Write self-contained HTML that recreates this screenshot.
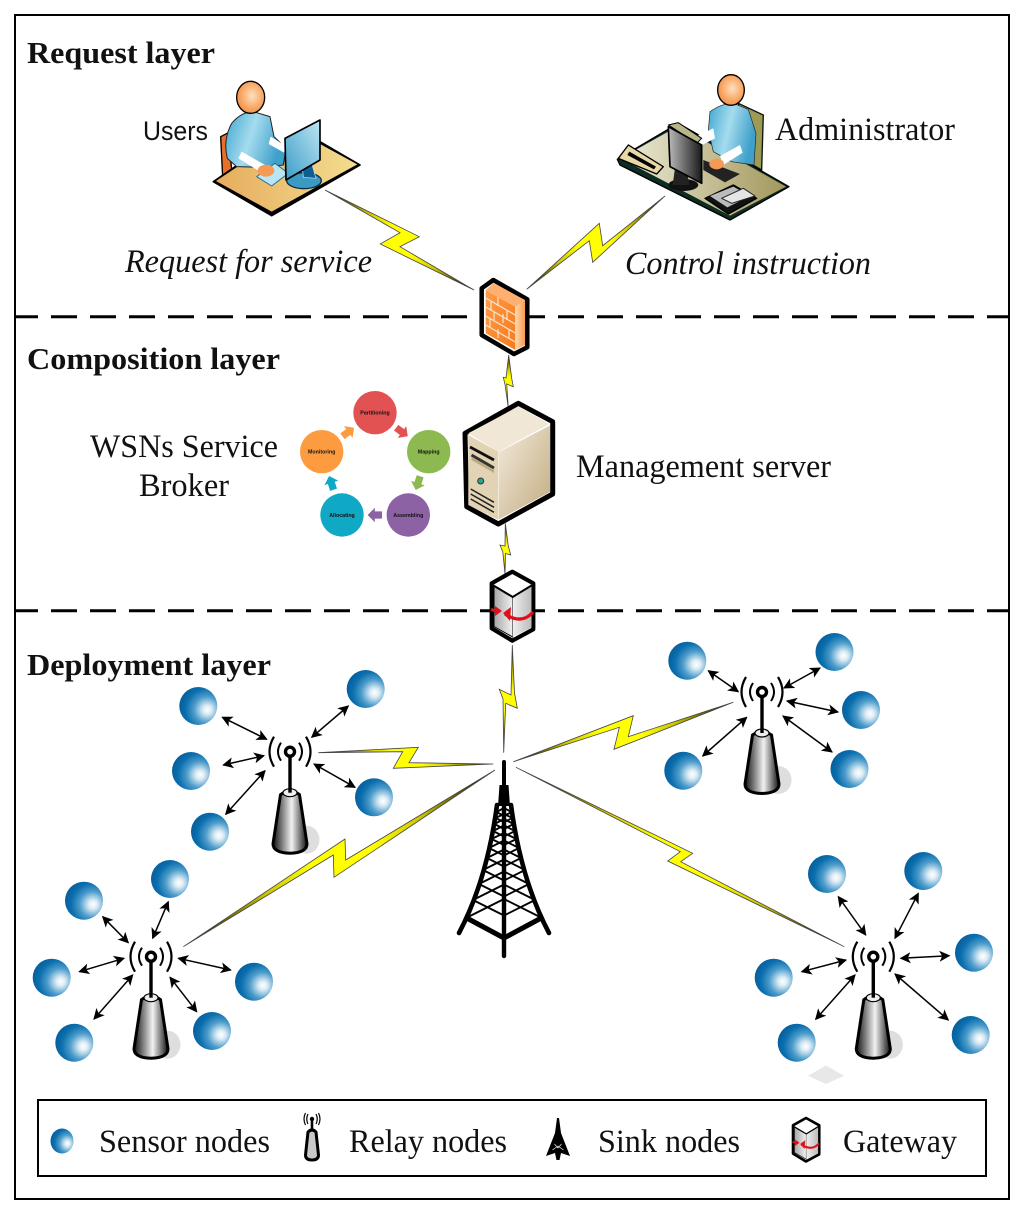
<!DOCTYPE html>
<html><head><meta charset="utf-8"><style>html,body{margin:0;padding:0;background:#fff}svg{display:block}text{font-family:"Liberation Serif",serif;fill:#111}</style></head><body>
<svg width="1024" height="1214" viewBox="0 0 1024 1214" xmlns="http://www.w3.org/2000/svg">
<defs>
<radialGradient id="s" cx=".72" cy=".6" r=".72" fx=".74" fy=".6"><stop offset="0" stop-color="#fff"/><stop offset=".16" stop-color="#dcecf5"/><stop offset=".48" stop-color="#4d9ccb"/><stop offset=".78" stop-color="#0b6fae"/><stop offset="1" stop-color="#07609f"/></radialGradient>
<linearGradient id="tw" x1="0" x2="1" y1="0" y2="0"><stop offset="0" stop-color="#111"/><stop offset=".25" stop-color="#777"/><stop offset=".55" stop-color="#f2f2f2"/><stop offset=".8" stop-color="#777"/><stop offset="1" stop-color="#111"/></linearGradient>
<radialGradient id="hd" cx=".55" cy=".45" r=".65"><stop offset="0" stop-color="#fde0c0"/><stop offset=".6" stop-color="#f9a765"/><stop offset="1" stop-color="#f0893b"/></radialGradient>
<linearGradient id="bd" x1="0" x2="1" y1="0" y2=".3"><stop offset="0" stop-color="#3fa6d0"/><stop offset=".5" stop-color="#a5dcee"/><stop offset="1" stop-color="#3fa0cb"/></linearGradient>
<linearGradient id="dk" x1="0" x2="1" y1="0" y2="0"><stop offset="0" stop-color="#e6ac5e"/><stop offset="1" stop-color="#f3dd8e"/></linearGradient>
<linearGradient id="scr" x1="0" x2="1" y1="1" y2="0"><stop offset="0" stop-color="#3c9cc8"/><stop offset="1" stop-color="#bde6f3"/></linearGradient>
<linearGradient id="dk2" x1="0" x2="1" y1="0" y2="0"><stop offset="0" stop-color="#ecebd8"/><stop offset="1" stop-color="#a3975c"/></linearGradient>
<linearGradient id="mon" x1="0" x2="1" y1="0" y2="0"><stop offset="0" stop-color="#bbb"/><stop offset="1" stop-color="#1a1a1a"/></linearGradient>
<linearGradient id="fw" x1="0" x2="1" y1="0" y2="1"><stop offset="0" stop-color="#ff9c4a"/><stop offset="1" stop-color="#f67a1c"/></linearGradient>
<linearGradient id="fs" x1="0" x2="1" y1="0" y2="0"><stop offset="0" stop-color="#ffd9b0"/><stop offset="1" stop-color="#f79a4e"/></linearGradient>
<linearGradient id="sv" x1="0" x2="1" y1="0" y2="1"><stop offset="0" stop-color="#f3ebdc"/><stop offset="1" stop-color="#c2ab80"/></linearGradient>
<linearGradient id="gw" x1="0" x2="1" y1="0" y2="0"><stop offset="0" stop-color="#a6a6a6"/><stop offset="1" stop-color="#f2f2f2"/></linearGradient>
<linearGradient id="gw2" x1="0" x2="1" y1="0" y2="0"><stop offset="0" stop-color="#efefef"/><stop offset="1" stop-color="#bbb"/></linearGradient>
<linearGradient id="lg"><stop offset="0" stop-color="#111"/><stop offset=".12" stop-color="#5e5900"/><stop offset=".28" stop-color="#cfc800"/><stop offset=".42" stop-color="#ffff00"/><stop offset=".6" stop-color="#ffff00"/><stop offset=".75" stop-color="#cfc800"/><stop offset=".88" stop-color="#5e5900"/><stop offset="1" stop-color="#111"/></linearGradient>
<linearGradient id="L1" href="#lg" gradientUnits="userSpaceOnUse" x1="325" y1="190" x2="474" y2="290"/>
<linearGradient id="L2" href="#lg" gradientUnits="userSpaceOnUse" x1="665" y1="196" x2="527" y2="289"/>
<linearGradient id="L3" href="#lg" gradientUnits="userSpaceOnUse" x1="508" y1="355" x2="508" y2="408"/>
<linearGradient id="L4" href="#lg" gradientUnits="userSpaceOnUse" x1="505" y1="523" x2="505" y2="574"/>
<linearGradient id="L5" href="#lg" gradientUnits="userSpaceOnUse" x1="512" y1="645" x2="504" y2="753"/>
<linearGradient id="L6" href="#lg" gradientUnits="userSpaceOnUse" x1="318" y1="752" x2="493" y2="764"/>
<linearGradient id="L7" href="#lg" gradientUnits="userSpaceOnUse" x1="733" y1="702" x2="513" y2="762"/>
<linearGradient id="L8" href="#lg" gradientUnits="userSpaceOnUse" x1="183" y1="947" x2="495" y2="770"/>
<linearGradient id="L9" href="#lg" gradientUnits="userSpaceOnUse" x1="516" y1="767" x2="844" y2="947"/>
<marker id="a" viewBox="0 0 10 10" refX="9" refY="5" markerWidth="11" markerHeight="11" markerUnits="userSpaceOnUse" orient="auto-start-reverse"><path d="M0,0 L10,5 L0,10 L2.500,5Z" fill="#000"/></marker>
<g id="relay">
<ellipse cx="16.500" cy="88" rx="13" ry="14" fill="#dedede"/>
<path d="M-9.500,43 L-17,92 Q-17,101 0,101.500 Q17,101 17,92 L9.500,43 Q0,36 -9.500,43Z" fill="url(#tw)" stroke="#000" stroke-width="3"/>
<ellipse cx="0" cy="41" rx="7" ry="4" fill="#eee" stroke="#000" stroke-width="1.200"/>
<path d="M0,3 V41" stroke="#000" stroke-width="3.400" fill="none"/>
<circle cx="0" cy="0" r="4.500" fill="#fff" stroke="#000" stroke-width="3.400"/>
<path d="M-9,-9 Q-15,0 -9,9 M9,-9 Q15,0 9,9" fill="none" stroke="#000" stroke-width="2"/>
<path d="M-16,-15 Q-25,0 -16,15 M16,-15 Q25,0 16,15" fill="none" stroke="#000" stroke-width="2.200"/>
</g>
<g id="lat" fill="none" stroke="#000" stroke-width="1.900">
<path d="M466 918L504 899M473 900L504 915.500M473 900L504 884.500M479 884L504 896.500M479 884L504 871.500M483 870L504 880.500M483 870L504 859.500M487 858L504 866.500M487 858L504 849.500M489 848L504 855.500M489 848L504 840.500M491.500 839L504 845M491.500 839L504 833M493 831L504 836.500M493 831L504 825.500M494.500 824L504 829M494.500 824L504 819M495.500 818L504 822M495.500 818L504 814M496.500 812L504 816M496.500 812L504 808"/>
<path d="M497 805 Q487 880 459 933" stroke-width="4.600" stroke-linecap="round"/>
<path d="M466.700 918L504 938" stroke-width="5"/>
</g>
<g id="sink">
<use href="#lat"/><use href="#lat" transform="translate(1008,0) scale(-1,1)"/>
<path d="M504 762V785" stroke="#000" stroke-width="4" stroke-linecap="round"/>
<path d="M499.500 785H508.500L510 806H498Z" fill="#000"/>
<path d="M504 800V956" stroke="#000" stroke-width="4.400" stroke-linecap="round"/>
</g>
<g id="gate">
<path d="M512.300 571.700L533.300 583.300V629.300L512.300 640.700L491.700 628.300V583.300Z" fill="#fff" stroke="#000" stroke-width="4.200" stroke-linejoin="round"/>
<path d="M494 586L512.700 597V637L494 626.500Z" fill="url(#gw)" stroke="#000" stroke-width="1"/>
<path d="M512.700 597L531.500 586V627.500L512.700 637Z" fill="url(#gw2)"/>
<path d="M493.500 585.500L512.700 597L531.500 585.500" fill="none" stroke="#000" stroke-width="2"/>
<path d="M533 612Q522 625 505 614" fill="none" stroke="#e0101a" stroke-width="3.200"/>
<path d="M503 613L511 607L510 621Z" fill="#e0101a"/>
<path d="M491 609Q496 612 499 612" fill="none" stroke="#e0101a" stroke-width="2.800"/>
<path d="M502 611L495 606V616Z" fill="#e0101a"/>
</g>
</defs>
<rect x="15" y="15" width="994" height="1184" fill="none" stroke="#000" stroke-width="2"/>
<path d="M15 316.700H1009M15 610.700H1009" stroke="#000" stroke-width="3" stroke-dasharray="26 13" stroke-dashoffset="3" fill="none"/>

<!-- lightning -->
<g stroke="#444" stroke-width=".8">
<polygon fill="url(#L1)" points="325,190 419.300,236.700 400,246.700 474,290 380.300,244 400,232.700"/>
<polygon fill="url(#L2)" points="665,196 602.700,245.700 599.300,223.300 526.700,289.300 589.300,240.700 592.700,262.300"/>
<polygon fill="url(#L3)" points="508.700,355 511.700,378.300 513.300,386.700 506.700,384 508.300,408 505,384.500 503.300,377.300 506,378"/>
<polygon fill="url(#L4)" points="505.300,523.300 508.300,546 510.700,555 505.500,553.500 505,574 502.800,552 500,545 505,546"/>
<polygon fill="url(#L5)" points="512.300,645 514.500,693 517.300,708.300 505.700,703.300 503.700,752.700 503,699 499.300,689.300 511,695"/>
<polygon fill="url(#L6)" points="318.300,752.700 418.300,747.300 409,762.700 493.300,764 393.300,768.300 402.700,751.700"/>
<polygon fill="url(#L7)" points="513.300,761.700 633.300,715.700 628.300,736.700 733.300,702.300 614,749.300 619.300,727.300"/>
<polygon fill="url(#L8)" points="183.300,946.700 345,839 345.700,860 495,770 334,877.300 333.300,855"/>
<polygon fill="url(#L9)" points="516,767.300 692.700,853.300 680.700,861.700 844.300,946.700 667.700,861 680.300,851.700"/>
</g>

<!-- sensors -->
<g fill="url(#s)">
<circle cx="198.300" cy="706" r="19"/><circle cx="365.700" cy="689" r="19"/><circle cx="191" cy="771" r="19"/><circle cx="374" cy="797.300" r="19"/><circle cx="210" cy="831.700" r="19"/>
<circle cx="84" cy="900.700" r="19"/><circle cx="170" cy="879" r="19"/><circle cx="51.700" cy="977.700" r="19"/><circle cx="254" cy="981.700" r="19"/><circle cx="74.300" cy="1042.700" r="19"/><circle cx="212" cy="1031" r="19"/>
<circle cx="687.300" cy="660.700" r="19"/><circle cx="834.500" cy="652" r="19"/><circle cx="861" cy="710" r="19"/><circle cx="683.300" cy="770.700" r="19"/><circle cx="849.500" cy="769" r="19"/>
<circle cx="827" cy="874" r="19"/><circle cx="923.300" cy="871" r="19"/><circle cx="773.700" cy="977.700" r="19"/><circle cx="974" cy="952.700" r="19"/><circle cx="796.700" cy="1042.700" r="19"/><circle cx="970.700" cy="1035" r="19"/>
</g>
<polygon points="808,1075.700 826,1065.500 844,1075.700 826,1084" fill="#e8e8e8"/>

<!-- arrows -->
<g stroke="#000" stroke-width="1.500" fill="none">
<path marker-start="url(#a)" marker-end="url(#a)" d="M222.300 717.300L266.700 739.300"/>
<path marker-start="url(#a)" marker-end="url(#a)" d="M311.700 737.300L348.300 706"/>
<path marker-start="url(#a)" marker-end="url(#a)" d="M223.300 765L264 755.700"/>
<path marker-start="url(#a)" marker-end="url(#a)" d="M314 764L355 787.300"/>
<path marker-start="url(#a)" marker-end="url(#a)" d="M225.700 814.300L265 770.700"/>
<path marker-start="url(#a)" marker-end="url(#a)" d="M102.700 916.700L128.300 942.700"/>
<path marker-start="url(#a)" marker-end="url(#a)" d="M168.300 901.700L152.700 938.300"/>
<path marker-start="url(#a)" marker-end="url(#a)" d="M79.300 971.700L124 958.300"/>
<path marker-start="url(#a)" marker-end="url(#a)" d="M178.300 958.300L230.700 970"/>
<path marker-start="url(#a)" marker-end="url(#a)" d="M94 1019L132.700 975"/>
<path marker-start="url(#a)" marker-end="url(#a)" d="M170 977.300L196.700 1011.700"/>
<path marker-start="url(#a)" marker-end="url(#a)" d="M708.300 670.700L738.300 691.700"/>
<path marker-start="url(#a)" marker-end="url(#a)" d="M746.700 717.300L702.700 756"/>
<path marker-start="url(#a)" marker-end="url(#a)" d="M784 688L820 668"/>
<path marker-start="url(#a)" marker-end="url(#a)" d="M787 701L838 712"/>
<path marker-start="url(#a)" marker-end="url(#a)" d="M783 716L832 752"/>
<path marker-start="url(#a)" marker-end="url(#a)" d="M838.300 896.700L865.700 935"/>
<path marker-start="url(#a)" marker-end="url(#a)" d="M918.300 893.300L895 938.300"/>
<path marker-start="url(#a)" marker-end="url(#a)" d="M801.700 971.700L846 960"/>
<path marker-start="url(#a)" marker-end="url(#a)" d="M900.700 958.300L949.300 955.700"/>
<path marker-start="url(#a)" marker-end="url(#a)" d="M815.700 1019.300L855 975"/>
<path marker-start="url(#a)" marker-end="url(#a)" d="M895 974L948.300 1020"/>
</g>

<use href="#relay" transform="translate(290,751.700)"/>
<use href="#relay" transform="translate(151,956.700)"/>
<use href="#relay" transform="translate(762,692)"/>
<use href="#relay" transform="translate(873.300,956.700)"/>
<use href="#sink"/>

<!-- users -->
<g transform="translate(200,70) scale(.3333)" stroke-linejoin="round">
<polygon points="62,200 85,188 95,300 68,322" fill="#e8702a" stroke="#000" stroke-width="4"/>
<polygon points="40,335 215,437 480,285 360,215 250,245 120,280" fill="#000" stroke="#000" stroke-width="5"/>
<polygon points="48,333 215,425 472,283 360,222 250,250 120,285" fill="url(#dk)"/>
<path d="M95,160 Q125,125 160,125 L210,140 L222,200 L258,235 L250,285 L190,292 L110,290 L82,265 Q68,210 95,160Z" fill="url(#bd)" stroke="#222" stroke-width="3"/>
<polygon points="125,245 195,285 180,305 115,265" fill="#fff"/>
<polygon points="212,200 258,228 252,248 206,222" fill="#fff"/>
<polygon points="170,320 225,280 265,310 215,348" fill="#b9e6f2" stroke="#2a6f90" stroke-width="3"/>
<ellipse cx="198" cy="302" rx="25" ry="18" fill="#f59a55"/>
<ellipse cx="312" cy="332" rx="52" ry="24" fill="#3b9ac4" stroke="#0c2d44" stroke-width="4"/>
<polygon points="305,262 328,255 348,325 310,322" fill="#0e5f90" stroke="#c9e9f4" stroke-width="2"/>
<polygon points="255,205 360,150 360,270 258,330" fill="url(#scr)" stroke="#000" stroke-width="5"/>
<ellipse cx="152" cy="82" rx="42" ry="48" fill="url(#hd)" stroke="#000" stroke-width="4"/>
</g>

<!-- admin -->
<g transform="translate(600,70) scale(.3333)" stroke-linejoin="round">
<polygon points="415,100 490,135 485,300 450,280" fill="#9b9b55" stroke="#111" stroke-width="4"/>
<polygon points="52,268 235,160 567,350 390,450 60,285" fill="#0d2d22" stroke="#000" stroke-width="4"/>
<polygon points="62,265 235,168 558,350 390,437" fill="url(#dk2)"/>
<path d="M330,125 Q365,100 400,100 L445,118 L468,190 L462,285 L395,275 L340,245 L325,180Z" fill="url(#bd)" stroke="#222" stroke-width="2"/>
<polygon points="295,195 340,175 345,205 300,228" fill="#fff"/>
<polygon points="360,258 420,225 428,248 370,285" fill="#fff"/>
<polygon points="310,270 420,312 375,337 310,300" fill="#222"/>
<ellipse cx="350" cy="282" rx="22" ry="16" fill="#f59a55"/>
<polygon points="205,165 235,158 305,205 290,220" fill="#b8b58a" stroke="#000" stroke-width="3"/>
<ellipse cx="250" cy="345" rx="45" ry="18" fill="#111"/>
<polygon points="225,295 262,310 268,345 218,345" fill="#222"/>
<polygon points="205,170 305,225 305,340 210,290" fill="url(#mon)" stroke="#000" stroke-width="5"/>
<polygon points="55,265 85,225 190,290 170,312" fill="#e8d8a8" stroke="#000" stroke-width="4"/>
<polygon points="88,245 168,290 162,298 82,255" fill="#000"/>
<polygon points="315,385 400,345 470,385 385,432" fill="#111" stroke="#000" stroke-width="4"/>
<polygon points="330,378 400,350 450,378 382,412" fill="#bbb"/>
<path d="M365,385 L430,355 L465,378 L395,400Z" fill="#e5e5e5" stroke="#222" stroke-width="3"/>
<ellipse cx="393" cy="60" rx="40" ry="46" fill="url(#hd)" stroke="#000" stroke-width="4"/>
</g>

<!-- firewall -->
<g stroke-linejoin="round">
<polygon points="493.300,280 527.300,299.300 527.300,347.300 514,354 481.700,335 481.700,288.300" fill="#fff" stroke="#000" stroke-width="4.500"/>
<polygon points="485.700,290 515.300,306.700 515.300,350 485.700,333.300" fill="url(#fw)"/>
<polygon points="515.300,306.700 525,300 525,345 515.300,350" fill="url(#fs)"/>
<polygon points="485.700,290 493.500,283 525,300 515.300,306.700" fill="#ffb070"/>
<path d="M485.700 298L515.300 315M485.700 307L515.300 324M485.700 316L515.300 333M485.700 325L515.300 342M498 297V306M507 311V320M491 301V310M503 314V323M494 311V320M509 329V338M498 329V338M490 318V327" stroke="#f6e6cf" stroke-width="1.200" fill="none"/>
</g>

<!-- server -->
<g stroke-linejoin="round">
<polygon points="518.300,403.300 552.700,421.700 552.700,494 498.300,524 466.700,506.700 465,433.300" fill="#fff" stroke="#000" stroke-width="5"/>
<polygon points="518.300,406.700 549.300,424 498.300,451.700 468.300,433.300" fill="#f0e7d6"/>
<polygon points="468.300,435 498.300,451.700 498.300,520 468.300,505" fill="#e2d3b4"/>
<polygon points="498.800,452 550,425.500 550,492 498.800,519.500" fill="url(#sv)"/>
<path d="M470 447L494 460" stroke="#111" stroke-width="2.800"/>
<path d="M471.500 455L494 468" stroke="#333" stroke-width="3"/>
<path d="M471.500 457L494 470V473L471.500 460Z" fill="#bba97f"/>
<circle cx="480.700" cy="481" r="3" fill="#2aa58c" stroke="#333" stroke-width="1"/>
<path d="M470.700 494L494 507.300M470.700 499L494 512.300M470.700 489L494 502.300" stroke="#222" stroke-width="1.500"/>
</g>
<use href="#gate"/>

<!-- broker -->
<circle cx="375" cy="412.700" r="21.700" fill="#e25253"/>
<circle cx="428.700" cy="451.700" r="21.700" fill="#8cba50"/>
<circle cx="408.300" cy="515" r="21.700" fill="#8c62a5"/>
<circle cx="342" cy="515" r="21.700" fill="#10a9c5"/>
<circle cx="321.700" cy="451.700" r="21.700" fill="#fd9b40"/>
<g>
<polygon points="-5,-3 1,-3 1,-6 7,0 1,6 1,3 -5,3" fill="#e25253" transform="translate(401,431.300) rotate(36) scale(1.200)"/>
<polygon points="-5,-3 1,-3 1,-6 7,0 1,6 1,3 -5,3" fill="#8cba50" transform="translate(418.300,482) rotate(108) scale(1.200)"/>
<polygon points="-5,-3 1,-3 1,-6 7,0 1,6 1,3 -5,3" fill="#8c62a5" transform="translate(376,515) rotate(180) scale(1.200)"/>
<polygon points="-5,-3 1,-3 1,-6 7,0 1,6 1,3 -5,3" fill="#10a9c5" transform="translate(331.700,484) rotate(252) scale(1.200)"/>
<polygon points="-5,-3 1,-3 1,-6 7,0 1,6 1,3 -5,3" fill="#fd9b40" transform="translate(347.300,432.700) rotate(324) scale(1.200)"/>
</g>
<g style="font-weight:bold;font-size:5.300px" text-anchor="middle">
<text x="375" y="414.700" style="font-family:'Liberation Sans',sans-serif">Partitioning</text>
<text x="428.700" y="453.700" style="font-family:'Liberation Sans',sans-serif">Mapping</text>
<text x="408.300" y="517" style="font-family:'Liberation Sans',sans-serif">Assembling</text>
<text x="342" y="517" style="font-family:'Liberation Sans',sans-serif">Allocating</text>
<text x="321.700" y="453.700" style="font-family:'Liberation Sans',sans-serif">Monitoring</text>
</g>

<!-- labels -->
<g font-weight="bold" font-size="31">
<text x="27" y="63" textLength="188" lengthAdjust="spacingAndGlyphs">Request layer</text>
<text x="27" y="369" textLength="253" lengthAdjust="spacingAndGlyphs">Composition layer</text>
<text x="27" y="675" textLength="244" lengthAdjust="spacingAndGlyphs">Deployment layer</text>
</g>
<text x="143" y="140" font-size="27" textLength="65" lengthAdjust="spacingAndGlyphs" style="font-family:'Liberation Sans',sans-serif">Users</text>
<g font-size="33">
<text x="775" y="140" textLength="180" lengthAdjust="spacingAndGlyphs">Administrator</text>
<text x="125" y="272" font-style="italic" textLength="247" lengthAdjust="spacingAndGlyphs">Request for service</text>
<text x="625" y="274" font-style="italic" textLength="246" lengthAdjust="spacingAndGlyphs">Control instruction</text>
<text x="90" y="457" textLength="188" lengthAdjust="spacingAndGlyphs">WSNs Service</text>
<text x="139" y="496" textLength="90" lengthAdjust="spacingAndGlyphs">Broker</text>
<text x="576" y="477" textLength="255" lengthAdjust="spacingAndGlyphs">Management server</text>
<text x="99" y="1152" textLength="171" lengthAdjust="spacingAndGlyphs">Sensor nodes</text>
<text x="349" y="1152" textLength="158" lengthAdjust="spacingAndGlyphs">Relay nodes</text>
<text x="598" y="1152" textLength="142" lengthAdjust="spacingAndGlyphs">Sink nodes</text>
<text x="843" y="1152" textLength="114" lengthAdjust="spacingAndGlyphs">Gateway</text>
</g>

<!-- legend -->
<rect x="38" y="1100" width="948" height="76" fill="none" stroke="#000" stroke-width="2"/>
<ellipse cx="62" cy="1141" rx="11.500" ry="12.500" fill="url(#s)"/>
<!-- legend relay -->
<path d="M308 1132L305.500 1155Q305.500 1160 312 1160Q318.500 1160 318.500 1155L316 1132Q312 1128 308 1132Z" fill="#c8c8c8" stroke="#000" stroke-width="3"/>
<path d="M312 1120V1131" stroke="#000" stroke-width="2.600"/>
<circle cx="312" cy="1119" r="2.200" fill="#000"/>
<path d="M308 1114Q305.500 1119 308 1124M316 1114Q318.500 1119 316 1124M305.500 1113Q302.500 1119 305.500 1125M318.500 1113Q321.500 1119 318.500 1125" fill="none" stroke="#000" stroke-width="1.200"/>
<!-- legend sink -->
<path d="M557 1118H559L561 1133L570 1156L561 1153L559.500 1160H556.500L555 1153L546 1156L555 1133Z" fill="#000"/>
<path d="M552.500 1150L558 1146L563.500 1150M554.500 1144L558 1148L561.500 1144" fill="none" stroke="#fff" stroke-width=".6"/>
<!-- legend gateway -->
<g transform="translate(806,1118) scale(.63) translate(-512.300,-571.700)"><use href="#gate"/></g>
</svg>
</body></html>
